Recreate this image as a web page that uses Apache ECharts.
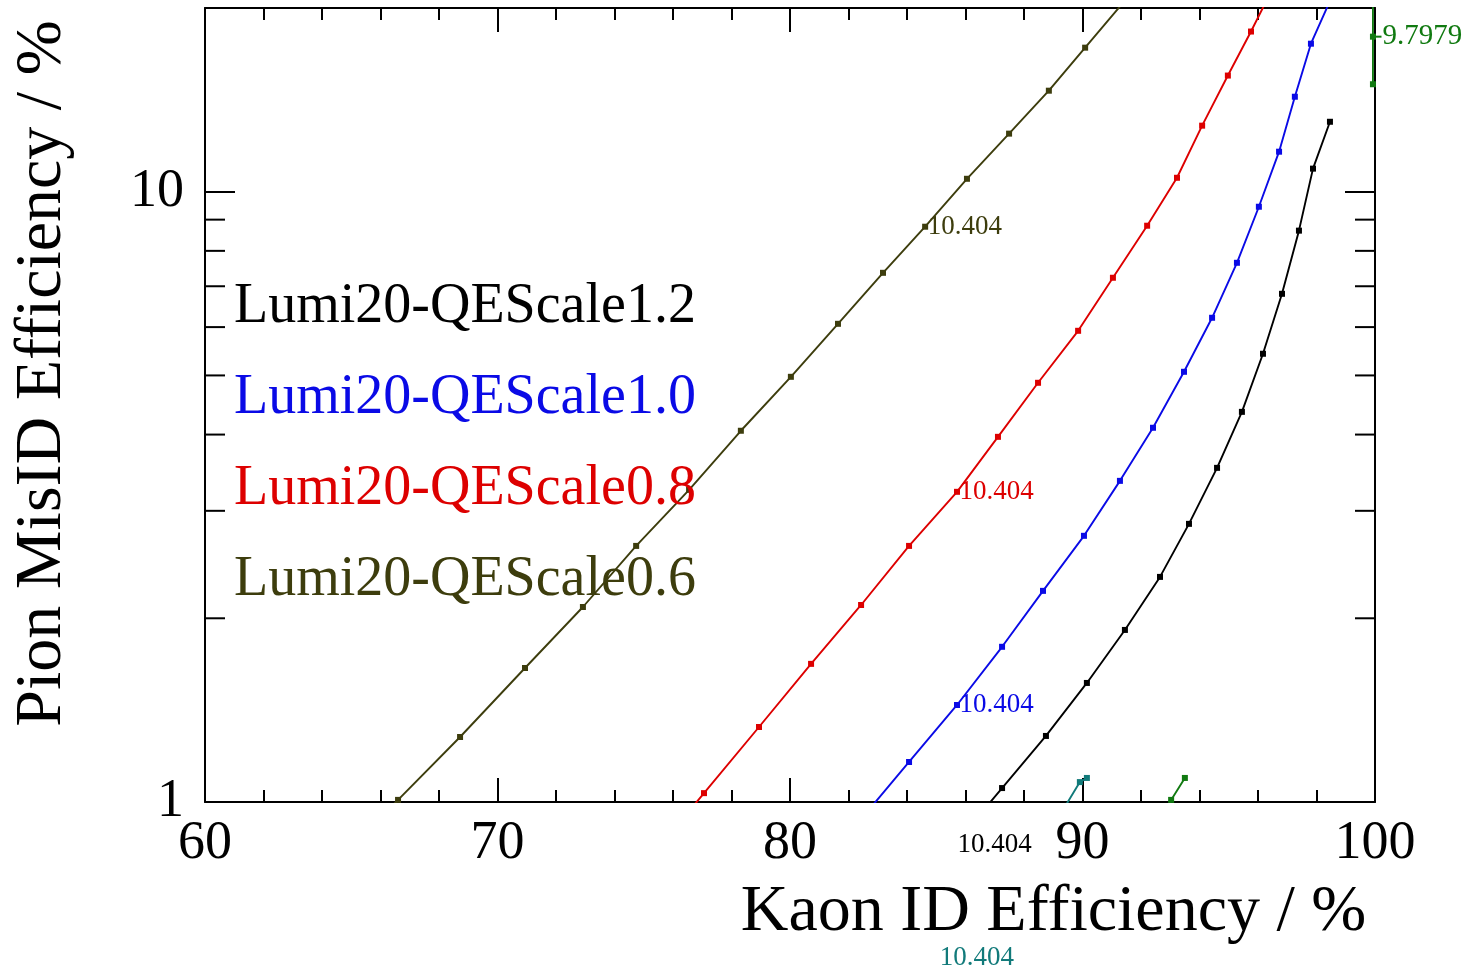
<!DOCTYPE html>
<html>
<head>
<meta charset="utf-8">
<script src="https://cdn.jsdelivr.net/npm/echarts@6/dist/echarts.min.js"></script>
<style>
  html, body { margin: 0; padding: 0; background: #ffffff; }
  #chart { width: 1466px; height: 968px; }
</style>
</head>
<body>
<div id="chart"></div>
<script>
// Axis ranges and tick values
const xRange = [60, 100];
const xMajorStep = 10;
const yRange = [1, 20];
const yMinorTicks = [2, 3, 4, 5, 6, 7, 8, 9];

// Curve names (legend order)
const names = ['Lumi20-QEScale1.2', 'Lumi20-QEScale1.0', 'Lumi20-QEScale0.8', 'Lumi20-QEScale0.6'];

// [Kaon ID efficiency %, Pion MisID efficiency %]
const qe12 = [[86.62, 0.97], [87.25, 1.054], [88.75, 1.283], [90.15, 1.567], [91.45, 1.914], [92.65, 2.338],
  [93.64, 2.856], [94.60, 3.528], [95.45, 4.358], [96.17, 5.426], [96.82, 6.803], [97.40, 8.634],
  [97.88, 10.91], [98.46, 13.02]];
const qe10 = [[82.69, 0.97], [84.07, 1.163], [85.71, 1.442], [87.25, 1.796], [88.65, 2.218], [90.05, 2.730],
  [91.28, 3.359], [92.41, 4.104], [93.47, 5.069], [94.43, 6.215], [95.28, 7.648], [96.03, 9.449],
  [96.72, 11.63], [97.26, 14.31], [97.81, 17.48], [98.55, 21.0]];
const qe08 = [[76.58, 0.97], [77.06, 1.034], [78.94, 1.327], [80.72, 1.684], [82.43, 2.103], [84.07, 2.628],
  [85.71, 3.223], [87.11, 3.966], [88.48, 4.863], [89.85, 5.917], [91.04, 7.228], [92.21, 8.796],
  [93.23, 10.54], [94.09, 12.83], [94.97, 15.50], [95.76, 18.30], [96.45, 21.3]];
const qe06 = [[66.25, 0.97], [66.60, 1.008], [68.72, 1.278], [70.94, 1.658], [72.92, 2.087], [74.74, 2.628],
  [76.55, 3.247], [78.32, 4.058], [80.03, 4.974], [81.64, 6.075], [83.18, 7.364], [84.62, 8.763],
  [86.05, 10.50], [87.49, 12.45], [88.85, 14.64], [90.09, 17.22], [91.35, 20.3]];
const tealPiece = [[89.33, 0.97], [89.91, 1.078], [90.15, 1.095]];
const greenPiece = [[92.95, 0.97], [93.03, 1.008], [93.50, 1.095], '-', [99.93, 20.5], [99.93, 17.95], [99.93, 15.0]];

// Working-point tags
const tagText = '10.404';
const tagQE12 = [85.64, 0.85];
const tagQE10 = [85.71, 1.442];
const tagQE08 = [85.71, 3.223];
const tagQE06 = [84.62, 8.763];
const tagTeal = [85.03, 0.555];
const tagGreenText = '9.7979';
const tagGreen = [100, 17.95];

const FONT = 'Liberation Serif';
const colors = {
  qe12: '#000000',
  qe10: '#0a0ae6',
  qe08: '#dd0000',
  qe06: '#3d3d0d',
  teal: '#117a7a',
  green: '#117a11'
};

function curve(name, data, color) {
  return {
    type: 'line', name, data,
    xAxisIndex: 0, yAxisIndex: 0,
    symbol: 'rect', symbolSize: 6, showSymbol: true,
    lineStyle: { width: 1.9, color },
    itemStyle: { color },
    clip: true, silent: true, z: 3
  };
}

function tag(point, text, color) {
  return {
    type: 'scatter', data: [point],
    xAxisIndex: 0, yAxisIndex: 0,
    symbol: 'rect', symbolSize: 1,
    itemStyle: { color: 'transparent', opacity: 1 },
    clip: false, silent: true, z: 4,
    label: {
      show: true, position: 'right', distance: 2, opacity: 1,
      formatter: text, color, fontFamily: FONT, fontSize: 27
    }
  };
}

// Minor ticks of the log axis, drawn on both the left and right frame edges
const logMinorTicks = {
  type: 'custom',
  xAxisIndex: 0, yAxisIndex: 0,
  data: yMinorTicks.map(v => [xRange[0], v]),
  encode: { x: 0, y: 1 },
  silent: true, z: 5,
  renderItem: function (params, api) {
    const v = api.value(1);
    const pL = api.coord([xRange[0], v]);
    const pR = api.coord([xRange[1], v]);
    const len = 20;
    const style = { stroke: '#000', lineWidth: 2 };
    return {
      type: 'group',
      children: [
        { type: 'line', shape: { x1: pL[0], y1: pL[1], x2: pL[0] + len, y2: pL[1] }, style },
        { type: 'line', shape: { x1: pR[0], y1: pR[1], x2: pR[0] - len, y2: pR[1] }, style }
      ]
    };
  }
};

const axisLine = { show: true, onZero: false, lineStyle: { color: '#000', width: 2 } };

const xCommon = {
  type: 'value', min: xRange[0], max: xRange[1], interval: xMajorStep,
  axisLine,
  axisTick: { show: true, inside: true, length: 24, lineStyle: { color: '#000', width: 2 } },
  minorTick: { show: true, splitNumber: 5, length: 12, lineStyle: { color: '#000', width: 2 } },
  splitLine: { show: false }, minorSplitLine: { show: false }
};

const yCommon = {
  type: 'log', logBase: 10, min: yRange[0], max: yRange[1],
  axisLine,
  axisTick: { show: true, inside: true, length: 30, lineStyle: { color: '#000', width: 2 } },
  minorTick: { show: false },
  splitLine: { show: false }, minorSplitLine: { show: false }
};

const chart = echarts.init(document.getElementById('chart'), null, { renderer: 'canvas' });

chart.setOption({
  animation: false,
  backgroundColor: '#ffffff',
  grid: { left: 205, right: 91, top: 8, bottom: 166, containLabel: false, outerBoundsMode: 'none' },
  legend: {
    orient: 'vertical', left: 223, top: 274,
    itemWidth: 0, itemHeight: 0, itemGap: 35,
    selectedMode: false,
    textStyle: { fontFamily: FONT, fontSize: 56 },
    data: [
      { name: names[0], textStyle: { color: colors.qe12 } },
      { name: names[1], textStyle: { color: colors.qe10 } },
      { name: names[2], textStyle: { color: colors.qe08 } },
      { name: names[3], textStyle: { color: colors.qe06 } }
    ]
  },
  xAxis: [
    Object.assign({}, xCommon, {
      position: 'bottom',
      axisLabel: { show: true, margin: 15, color: '#000', fontFamily: FONT, fontSize: 54 },
      name: 'Kaon ID Efficiency / %', nameLocation: 'middle', nameGap: 78,
      nameTextStyle: { color: '#000', fontFamily: FONT, fontSize: 66, padding: [0, 0, 0, 527] }
    }),
    Object.assign({}, xCommon, { position: 'top', axisLabel: { show: false } })
  ],
  yAxis: [
    Object.assign({}, yCommon, {
      position: 'left',
      axisLabel: { show: true, margin: 21, showMaxLabel: false, color: '#000', fontFamily: FONT, fontSize: 54 },
      name: 'Pion MisID Efficiency / %', nameLocation: 'middle', nameGap: 129, nameRotate: 90,
      nameTextStyle: { color: '#000', fontFamily: FONT, fontSize: 66, padding: [0, 0, 0, 63] }
    }),
    Object.assign({}, yCommon, { position: 'right', axisLabel: { show: false } })
  ],
  series: [
    curve(names[0], qe12, colors.qe12),
    curve(names[1], qe10, colors.qe10),
    curve(names[2], qe08, colors.qe08),
    curve(names[3], qe06, colors.qe06),
    curve('teal', tealPiece, colors.teal),
    curve('green', greenPiece, colors.green),
    tag(tagQE12, tagText, colors.qe12),
    tag(tagQE10, tagText, colors.qe10),
    tag(tagQE08, tagText, colors.qe08),
    tag(tagQE06, tagText, colors.qe06),
    tag(tagTeal, tagText, colors.teal),
    Object.assign(tag(tagGreen, tagGreenText, colors.green), {
      symbol: 'rect', symbolSize: [7, 2], symbolOffset: [3, 0],
      itemStyle: { color: colors.green, opacity: 1 },
      label: {
        show: true, position: 'right', distance: 1, opacity: 1,
        formatter: tagGreenText, color: colors.green, fontFamily: FONT, fontSize: 29
      }
    }),
    logMinorTicks
  ]
});
</script>
</body>
</html>
